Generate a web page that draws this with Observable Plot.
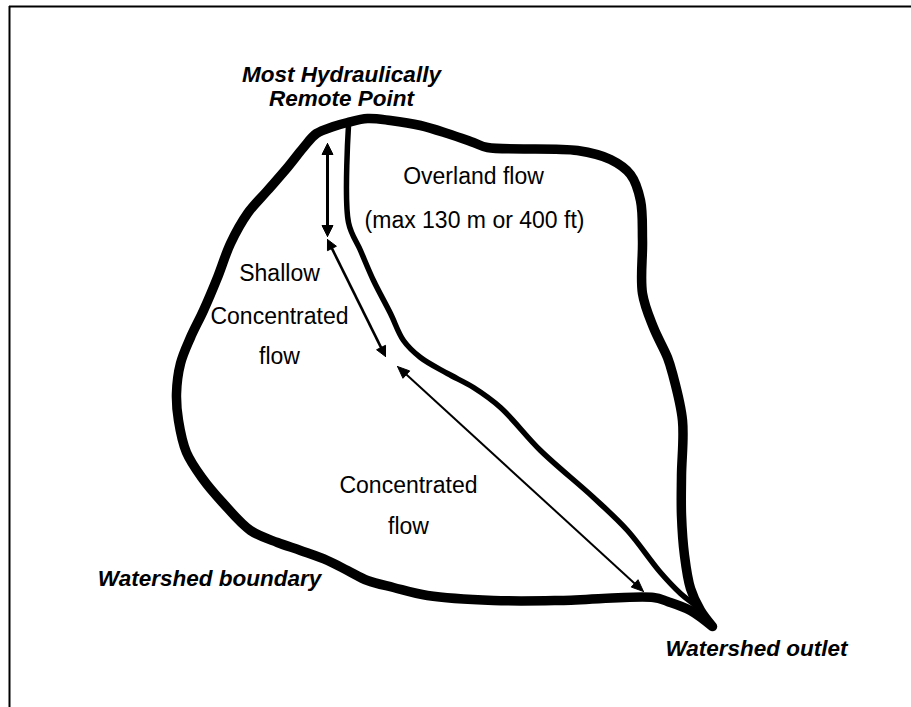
<!DOCTYPE html>
<html>
<head>
<meta charset="utf-8">
<script src="https://cdn.jsdelivr.net/npm/d3@7"></script>
<script src="https://cdn.jsdelivr.net/npm/@observablehq/plot@0.6"></script>
<style>
  html, body { margin: 0; padding: 0; background: #fff; }
  #chart svg { display: block; }
</style>
</head>
<body>
<div id="chart"></div>
<script>
// Diagram coordinates (x to the right, y downward).
const boundary = [
  [712,626],[700,610],[690,588],[684,555],[681,515],[681,475],[682,420],
  [672,373],[667,357],[653,327],[642,293],[642,240],[640,200],[630,174],
  [610,159],[577,150],[487,147],[473,142],[447,133],[420,125],
  [390,120],[367,118],[347,122],[333,126],[316,133],[303,147],[287,167],
  [267,190],[247,213],[230,243],[217,277],[203,310],[190,337],[180,363],
  [176,393],[178,420],[186,452],[202,478],[222,502],[250,530],
  [277,542],[300,550],[327,560],[347,570],[367,580],[393,587],[427,595],
  [493,600],[560,600],[653,597],[667,601],[690,610],[712,626]
];

const channel = [
  [348,125],[348,222],[360,250],[373,280],[390,313],[403,340],[420,357],
  [447,373],[473,387],[500,407],[540,450],[593,497],[627,530],[660,572],
  [680,593],[697,607],[712,624]
];

const arrows = [
  {name: "overland", x1: 327, y1: 143, x2: 327, y2: 236},
  {name: "shallow", x1: 327, y1: 239, x2: 385, y2: 356},
  {name: "concentrated", x1: 397, y1: 366, x2: 643, y2: 591}
];

const boldLabels = [
  {text: "Most Hydraulically\nRemote Point", x: 341, y: 105},
  {text: "Watershed boundary", x: 209, y: 585},
  {text: "Watershed outlet", x: 756, y: 655}
];

const flowLabels = [
  {text: "Overland flow", x: 473, y: 183},
  {text: "(max 130 m or 400 ft)", x: 474, y: 227},
  {text: "Shallow", x: 279, y: 280},
  {text: "Concentrated", x: 279, y: 323},
  {text: "flow", x: 279, y: 363},
  {text: "Concentrated", x: 408, y: 492},
  {text: "flow", x: 408, y: 533}
];

// ---- styling (kept apart from the data) ----
const arrowStyle = {
  overland: {width: 3, head: 11, half: 5.5},
  shallow: {width: 2.6, head: 10, half: 5},
  concentrated: {width: 2, head: 12, half: 5}
};

// derived geometry for double-headed arrows
const shafts = [];
const heads = [];
arrows.forEach((a) => {
  const s = arrowStyle[a.name];
  const dx = a.x2 - a.x1, dy = a.y2 - a.y1;
  const len = Math.hypot(dx, dy);
  const ux = dx / len, uy = dy / len;
  const nx = -uy, ny = ux;
  shafts.push({
    name: a.name,
    x1: a.x1 + ux * s.head * 0.6, y1: a.y1 + uy * s.head * 0.6,
    x2: a.x2 - ux * s.head * 0.6, y2: a.y2 - uy * s.head * 0.6,
    w: s.width
  });
  [[a.x2, a.y2, ux, uy, "e"], [a.x1, a.y1, -ux, -uy, "s"]].forEach(([tx, ty, vx, vy, k]) => {
    const bx = tx - vx * s.head, by = ty - vy * s.head;
    const id = a.name + k;
    heads.push({id, x: tx, y: ty});
    heads.push({id, x: bx + nx * s.half, y: by + ny * s.half});
    heads.push({id, x: bx - nx * s.half, y: by - ny * s.half});
    heads.push({id, x: tx, y: ty});
  });
});

const FONT = "'Liberation Sans', Arial, Helvetica, sans-serif";

const chart = Plot.plot({
  width: 911,
  height: 707,
  margin: 0,
  x: {domain: [0, 911], range: [0, 911], axis: null},
  y: {domain: [0, 707], range: [0, 707], axis: null},
  style: {background: "white", fontFamily: FONT},
  marks: [
    // picture frame (left and top edges visible)
    Plot.ruleX([9], {y1: 6, y2: 707, stroke: "black", strokeWidth: 2}),
    Plot.ruleY([6], {x1: 9, x2: 911, stroke: "black", strokeWidth: 2}),
    // watershed boundary
    Plot.line(boundary, {
      x: (d) => d[0], y: (d) => d[1],
      curve: "catmull-rom",
      stroke: "black", strokeWidth: 9.5,
      strokeLinejoin: "round", strokeLinecap: "round"
    }),
    // main channel
    Plot.line(channel, {
      x: (d) => d[0], y: (d) => d[1],
      curve: "catmull-rom",
      stroke: "black", strokeWidth: 5.5,
      strokeLinejoin: "round", strokeLinecap: "round"
    }),
    // arrow shafts
    Plot.link(shafts, {
      x1: "x1", y1: "y1", x2: "x2", y2: "y2",
      stroke: "black", strokeWidth: (d) => d.w
    }),
    // arrow heads (filled triangles)
    Plot.line(heads, {
      x: "x", y: "y", z: "id",
      fill: "black", stroke: "black", strokeWidth: 1,
      strokeLinejoin: "miter"
    }),
    // regular labels
    Plot.text(flowLabels, {
      x: "x", y: "y", text: "text",
      textAnchor: "middle", lineAnchor: "bottom",
      fontSize: 23, fill: "black", fontFamily: FONT
    }),
    // bold italic labels
    Plot.text(boldLabels, {
      x: "x", y: "y", text: "text",
      textAnchor: "middle", lineAnchor: "bottom", lineHeight: 1.05,
      fontSize: 22.5, fontWeight: "bold", fontStyle: "italic",
      fill: "black", fontFamily: FONT
    })
  ]
});

document.getElementById("chart").appendChild(chart);
</script>
</body>
</html>
